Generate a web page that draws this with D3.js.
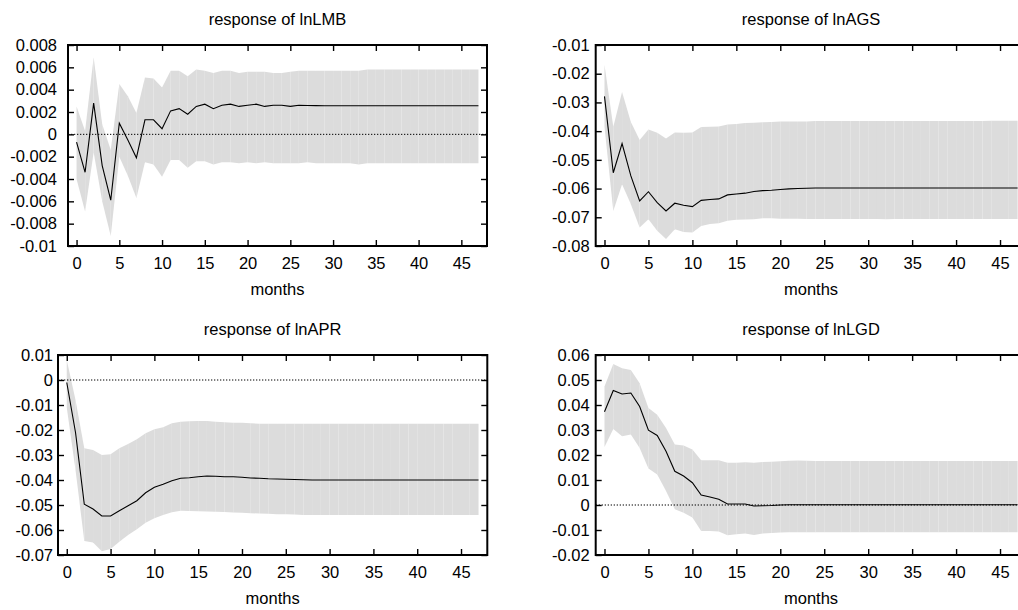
<!DOCTYPE html>
<html>
<head>
<meta charset="utf-8">
<script src="https://cdn.jsdelivr.net/npm/d3@7"></script>
<style>
  body { margin: 0; background: #fff; }
  text { font-family: "Liberation Sans", Arial, Helvetica, sans-serif; }
</style>
</head>
<body>
<div id="chart"></div>
<script>

// horizon (months after the shock)
var months = d3.range(0, 48);
var xTicks = [0, 5, 10, 15, 20, 25, 30, 35, 40, 45];

// response of lnLMB
var lmbResp = [-0.0007, -0.0034, 0.0028, -0.0028, -0.0059, 0.0010, -0.0005, -0.0021, 0.0013, 0.0013,
  0.0005, 0.0021, 0.0023, 0.0018, 0.0025, 0.0027, 0.0023, 0.0026, 0.0027, 0.0025,
  0.0026, 0.0027, 0.0025, 0.0026, 0.0026, 0.0025, 0.0026, 0.00258, 0.00257, 0.00256,
  0.00256, 0.00256, 0.00256, 0.00256, 0.00256, 0.00256, 0.00256, 0.00256, 0.00256, 0.00256,
  0.00256, 0.00256, 0.00256, 0.00256, 0.00256, 0.00256, 0.00256, 0.00256];
var lmbLo = [-0.0040, -0.0069, -0.0016, -0.0060, -0.0091, -0.0020, -0.0037, -0.0057, -0.0025, -0.0027,
  -0.0038, -0.0023, -0.0023, -0.0030, -0.0024, -0.0024, -0.0027, -0.0025, -0.0025, -0.0026,
  -0.0025, -0.0026, -0.0025, -0.0026, -0.0026, -0.0026, -0.0026, -0.0025, -0.0026, -0.0026,
  -0.0026, -0.0026, -0.0026, -0.0027, -0.0026, -0.0026, -0.0026, -0.0026, -0.0026, -0.0026,
  -0.0026, -0.0026, -0.0026, -0.0026, -0.0026, -0.0026, -0.0026, -0.0026];
var lmbHi = [0.0025, 0.0003, 0.0069, 0.0009, -0.0014, 0.0045, 0.0034, 0.0019, 0.0051, 0.0050,
  0.0042, 0.0057, 0.0057, 0.0052, 0.0058, 0.0057, 0.0055, 0.0057, 0.0057, 0.0055,
  0.0056, 0.0056, 0.0056, 0.0055, 0.0055, 0.0056, 0.0057, 0.0057, 0.0057, 0.0057,
  0.0057, 0.0057, 0.0057, 0.0057, 0.0058, 0.0058, 0.0058, 0.0058, 0.0058, 0.0058,
  0.0058, 0.0058, 0.0058, 0.0058, 0.0058, 0.0058, 0.0058, 0.0058];
var lmbTicks = [0.008, 0.006, 0.004, 0.002, 0, -0.002, -0.004, -0.006, -0.008, -0.01];

// response of lnAGS
var agsResp = [-0.0279, -0.0545, -0.0443, -0.0556, -0.0643, -0.0611, -0.0649, -0.0678, -0.0651, -0.0658,
  -0.0663, -0.0641, -0.0638, -0.0636, -0.0622, -0.0619, -0.0616, -0.0610, -0.0607, -0.0606,
  -0.0603, -0.0601, -0.0600, -0.0599, -0.0598, -0.0598, -0.0598, -0.0598, -0.0598, -0.0598,
  -0.0598, -0.0598, -0.0598, -0.0598, -0.0598, -0.0598, -0.0598, -0.0598, -0.0598, -0.0598,
  -0.0598, -0.0598, -0.0598, -0.0598, -0.0598, -0.0598, -0.0598, -0.0598];
var agsLo = [-0.0385, -0.0678, -0.0585, -0.0655, -0.0736, -0.0707, -0.0747, -0.0776, -0.0742, -0.0751,
  -0.0753, -0.0730, -0.0723, -0.0721, -0.0712, -0.0709, -0.0708, -0.0707, -0.0703, -0.0703,
  -0.0705, -0.0705, -0.0705, -0.0706, -0.0706, -0.0706, -0.0706, -0.0706, -0.0706, -0.0706,
  -0.0706, -0.0706, -0.0707, -0.0706, -0.0706, -0.0706, -0.0706, -0.0706, -0.0706, -0.0706,
  -0.0706, -0.0706, -0.0706, -0.0706, -0.0706, -0.0706, -0.0706, -0.0706];
var agsHi = [-0.0169, -0.0385, -0.0264, -0.0368, -0.0431, -0.0394, -0.0406, -0.0426, -0.0405, -0.0406,
  -0.0405, -0.0386, -0.0385, -0.0384, -0.0377, -0.0375, -0.0372, -0.0371, -0.0369, -0.0368,
  -0.0366, -0.0366, -0.0366, -0.0366, -0.0365, -0.0365, -0.0365, -0.0365, -0.0365, -0.0365,
  -0.0365, -0.0365, -0.0365, -0.0365, -0.0365, -0.0365, -0.0365, -0.0365, -0.0365, -0.0365,
  -0.0365, -0.0365, -0.0365, -0.0365, -0.0364, -0.0364, -0.0364, -0.0364];
var agsTicks = [-0.01, -0.02, -0.03, -0.04, -0.05, -0.06, -0.07, -0.08];

// response of lnAPR
var aprResp = [-0.0010, -0.0210, -0.0497, -0.0516, -0.0544, -0.0544, -0.0523, -0.0503, -0.0483, -0.0451,
  -0.0429, -0.0417, -0.0403, -0.0393, -0.0391, -0.0387, -0.0384, -0.0385, -0.0387, -0.0387,
  -0.0389, -0.0392, -0.0393, -0.0395, -0.0396, -0.0397, -0.0398, -0.0399, -0.0400, -0.0400,
  -0.0400, -0.0400, -0.0400, -0.0400, -0.0400, -0.0400, -0.0400, -0.0400, -0.0400, -0.0400,
  -0.0400, -0.0400, -0.0400, -0.0400, -0.0400, -0.0400, -0.0400, -0.0400];
var aprLo = [-0.0110, -0.0360, -0.0644, -0.0650, -0.0685, -0.0676, -0.0647, -0.0620, -0.0597, -0.0571,
  -0.0553, -0.0540, -0.0529, -0.0523, -0.0524, -0.0525, -0.0526, -0.0527, -0.0528, -0.0530,
  -0.0531, -0.0533, -0.0534, -0.0535, -0.0537, -0.0537, -0.0538, -0.0540, -0.0540, -0.0540,
  -0.0540, -0.0540, -0.0540, -0.0540, -0.0540, -0.0540, -0.0540, -0.0540, -0.0540, -0.0540,
  -0.0540, -0.0540, -0.0540, -0.0540, -0.0540, -0.0540, -0.0540, -0.0540];
var aprHi = [0.0080, -0.0080, -0.0273, -0.0280, -0.0300, -0.0297, -0.0273, -0.0256, -0.0237, -0.0213,
  -0.0197, -0.0189, -0.0173, -0.0167, -0.0165, -0.0164, -0.0164, -0.0167, -0.0169, -0.0171,
  -0.0171, -0.0173, -0.0175, -0.0175, -0.0175, -0.0175, -0.0175, -0.0175, -0.0175, -0.0175,
  -0.0175, -0.0175, -0.0175, -0.0175, -0.0175, -0.0175, -0.0175, -0.0175, -0.0175, -0.0175,
  -0.0175, -0.0175, -0.0175, -0.0175, -0.0175, -0.0175, -0.0175, -0.0175];
var aprTicks = [0.01, 0, -0.01, -0.02, -0.03, -0.04, -0.05, -0.06, -0.07];

// response of lnLGD
var lgdResp = [0.0373, 0.0458, 0.0444, 0.0448, 0.0394, 0.0299, 0.0278, 0.0215, 0.0135, 0.0116,
  0.0089, 0.0040, 0.0032, 0.0023, 0.0004, 0.0004, 0.0004, -0.0004, -0.0003, -0.0002,
  0.0000, 0.0001, 0.0001, 0.0001, 0.0001, 0.0001, 0.0001, 0.0001, 0.0001, 0.0001,
  0.0001, 0.0001, 0.0001, 0.0001, 0.0001, 0.0001, 0.0001, 0.0001, 0.0001, 0.0001,
  0.0001, 0.0001, 0.0001, 0.0001, 0.0001, 0.0001, 0.0001, 0.0001];
var lgdLo = [0.0232, 0.0304, 0.0275, 0.0282, 0.0228, 0.0146, 0.0122, 0.0056, -0.0017, -0.0031,
  -0.0050, -0.0104, -0.0104, -0.0106, -0.0121, -0.0117, -0.0114, -0.0120, -0.0114, -0.0112,
  -0.0110, -0.0109, -0.0109, -0.0109, -0.0109, -0.0109, -0.0109, -0.0109, -0.0109, -0.0109,
  -0.0109, -0.0109, -0.0109, -0.0109, -0.0109, -0.0109, -0.0109, -0.0109, -0.0109, -0.0109,
  -0.0109, -0.0109, -0.0109, -0.0109, -0.0109, -0.0109, -0.0109, -0.0109];
var lgdHi = [0.0474, 0.0564, 0.0547, 0.0540, 0.0487, 0.0388, 0.0361, 0.0308, 0.0242, 0.0238,
  0.0222, 0.0179, 0.0179, 0.0179, 0.0169, 0.0169, 0.0171, 0.0169, 0.0172, 0.0173,
  0.0175, 0.0177, 0.0178, 0.0177, 0.0176, 0.0176, 0.0176, 0.0176, 0.0176, 0.0176,
  0.0176, 0.0176, 0.0176, 0.0176, 0.0176, 0.0176, 0.0176, 0.0176, 0.0176, 0.0176,
  0.0176, 0.0176, 0.0176, 0.0176, 0.0176, 0.0176, 0.0176, 0.0176];
var lgdTicks = [0.06, 0.05, 0.04, 0.03, 0.02, 0.01, 0, -0.01, -0.02];

var panels = [
  {title: "response of lnLMB", resp: lmbResp, lo: lmbLo, hi: lmbHi, ticks: lmbTicks,
   left: 68, right: 487, top: 45, bottom: 246, labelGap: 11},
  {title: "response of lnAGS", resp: agsResp, lo: agsLo, hi: agsHi, ticks: agsTicks,
   left: 595.7, right: 1026.4, top: 45, bottom: 246, labelGap: 6},
  {title: "response of lnAPR", resp: aprResp, lo: aprLo, hi: aprHi, ticks: aprTicks,
   left: 58, right: 487.3, top: 355, bottom: 555, labelGap: 5},
  {title: "response of lnLGD", resp: lgdResp, lo: lgdLo, hi: lgdHi, ticks: lgdTicks,
   left: 595.7, right: 1026.4, top: 355, bottom: 555, labelGap: 6}
];

var fontSize = 16.5;
var tickLen = 6;

var svg = d3.select("#chart").append("svg")
    .attr("width", 1018)
    .attr("height", 610);

function fmt(v) { return String(+v.toFixed(6)); }

panels.forEach(function(p) {
    var w = p.right - p.left, h = p.bottom - p.top;

    var x = d3.scaleLinear().domain([-1, 48]).range([0, w]);
    var y = d3.scaleLinear()
        .domain([d3.min(p.ticks), d3.max(p.ticks)])
        .range([h, 0]);

    var g = svg.append("g")
        .attr("transform", "translate(" + p.left + "," + p.top + ")");

    // confidence band, one strip per step (gives the faint seams)
    var rows = months.map(function(m, i) { return {m: m, lo: p.lo[i], hi: p.hi[i], r: p.resp[i]}; });
    var area = d3.area()
        .x(function(d) { return x(d.m); })
        .y0(function(d) { return y(d.lo); })
        .y1(function(d) { return y(d.hi); });
    for (var i = 0; i < rows.length - 1; i++) {
        g.append("path")
            .datum(rows.slice(i, i + 2))
            .attr("fill", "#dcdcdc")
            .attr("d", area);
    }

    // zero line
    if (y.domain()[0] < 0 && y.domain()[1] > 0) {
        g.append("line")
            .attr("x1", 0).attr("x2", w)
            .attr("y1", y(0)).attr("y2", y(0))
            .attr("stroke", "#000")
            .attr("stroke-width", 1)
            .attr("stroke-dasharray", "1.3,1.7");
    }

    // impulse response
    var line = d3.line()
        .x(function(d) { return x(d.m); })
        .y(function(d) { return y(d.r); });
    g.append("path")
        .datum(rows)
        .attr("fill", "none")
        .attr("stroke", "#000")
        .attr("stroke-width", 1.1)
        .attr("d", line);

    // axes, ticks pointing inward on all four sides
    var ax = [
        g.append("g").attr("transform", "translate(0," + h + ")")
            .call(d3.axisBottom(x).tickValues(xTicks).tickSize(-tickLen).tickSizeOuter(0).tickPadding(11.3)),
        g.append("g")
            .call(d3.axisTop(x).tickValues(xTicks).tickSize(-tickLen).tickSizeOuter(0).tickFormat("")),
        g.append("g")
            .call(d3.axisLeft(y).tickValues(p.ticks).tickSize(-tickLen).tickSizeOuter(0)
                .tickPadding(p.labelGap).tickFormat(fmt)),
        g.append("g").attr("transform", "translate(" + w + ",0)")
            .call(d3.axisRight(y).tickValues(p.ticks).tickSize(-tickLen).tickSizeOuter(0).tickFormat(""))
    ];
    ax.forEach(function(a) {
        a.select(".domain").remove();
        a.selectAll("line").attr("stroke", "#000").attr("stroke-width", 1.4);
        a.attr("font-family", null).attr("font-size", null);
        a.selectAll("text")
            .style("font-size", fontSize + "px")
            .attr("fill", "#000");
    });

    // frame
    g.append("rect")
        .attr("width", w).attr("height", h)
        .attr("fill", "none")
        .attr("stroke", "#000")
        .attr("stroke-width", 2);

    g.append("text")
        .attr("x", w / 2).attr("y", -20)
        .attr("text-anchor", "middle")
        .style("font-size", fontSize + "px")
        .text(p.title);

    g.append("text")
        .attr("x", w / 2).attr("y", h + 49)
        .attr("text-anchor", "middle")
        .style("font-size", fontSize + "px")
        .text("months");
});
</script>
</body>
</html>
